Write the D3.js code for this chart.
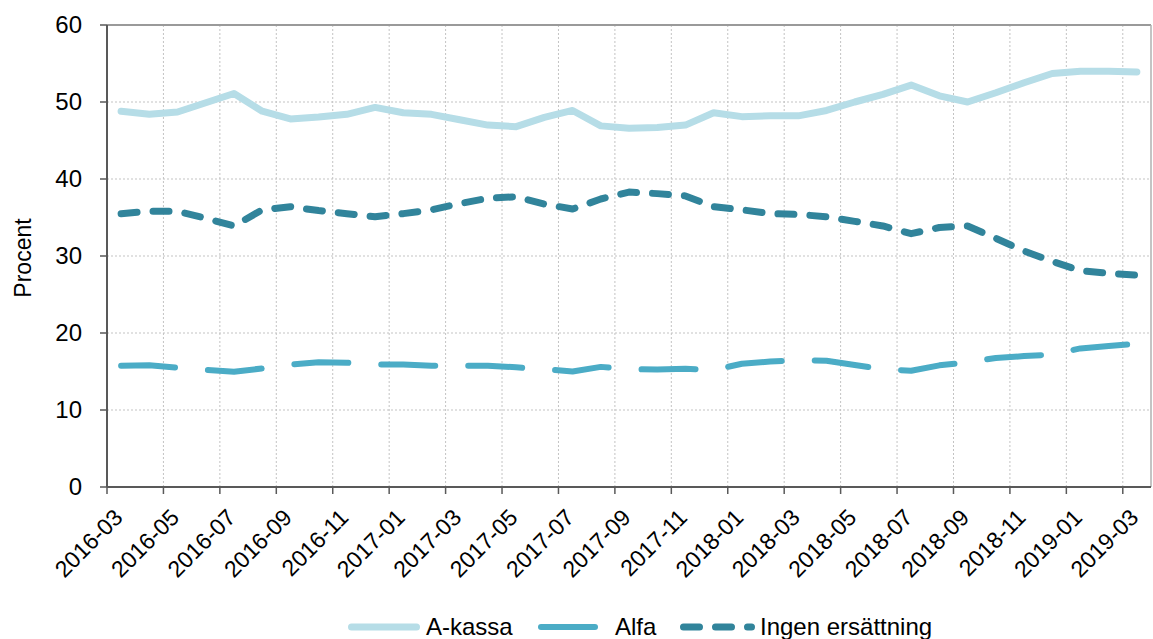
<!DOCTYPE html>
<html>
<head>
<meta charset="utf-8">
<script src="https://cdn.jsdelivr.net/npm/d3@7"></script>
<style>
body{margin:0;background:#fff}
text{font-family:"Liberation Sans",Arial,sans-serif;fill:#000}
</style>
</head>
<body>
<svg id="chart" width="1153" height="639"></svg>
<script>
var months = ["2016-03","2016-04","2016-05","2016-06","2016-07","2016-08","2016-09","2016-10","2016-11","2016-12",
	"2017-01","2017-02","2017-03","2017-04","2017-05","2017-06","2017-07","2017-08","2017-09","2017-10","2017-11","2017-12",
	"2018-01","2018-02","2018-03","2018-04","2018-05","2018-06","2018-07","2018-08","2018-09","2018-10","2018-11","2018-12",
	"2019-01","2019-02","2019-03"];
var aKassa = [48.8,48.4,48.7,49.9,51.1,48.8,47.8,48.05,48.4,49.3,48.6,48.4,47.7,47.0,46.8,48.0,48.9,46.9,46.6,46.7,
	47.0,48.6,48.1,48.2,48.2,48.9,50.0,51.0,52.2,50.8,50.0,51.2,52.5,53.7,54.0,54.0,53.9];
var alfa = [15.75,15.8,15.5,15.2,14.97,15.4,15.9,16.2,16.15,15.9,15.9,15.75,15.75,15.75,15.55,15.3,15.0,15.6,15.3,15.25,
	15.35,15.2,16.0,16.3,16.45,16.4,15.85,15.3,15.1,15.8,16.2,16.75,17.0,17.2,18.0,18.3,18.6];
var ingen = [35.5,35.8,35.8,34.9,33.9,36.0,36.4,35.9,35.5,35.1,35.5,36.0,36.8,37.5,37.7,36.75,36.1,37.4,38.3,38.1,
	37.8,36.4,36.0,35.5,35.4,35.1,34.5,33.9,32.9,33.7,33.9,32.3,30.65,29.3,28.1,27.75,27.5];
var yTicks = [0,10,20,30,40,50,60];
var seriesNames = ["A-kassa","Alfa","Ingen ersättning"];

var plotLeft = 107, plotRight = 1151, plotTop = 25, plotBottom = 487;
var svg = d3.select("#chart");

var x = d3.scaleBand().domain(months).range([plotLeft, plotRight]).padding(0);
var y = d3.scaleLinear().domain([0, 60]).range([plotBottom, plotTop]);
var labelled = months.filter(function(d, i){ return i % 2 == 0; });

// grid
svg.append("g")
	.selectAll("line")
	.data(yTicks.slice(1, -1))
	.enter()
	.append("line")
	.attr("x1", plotLeft).attr("x2", plotRight)
	.attr("y1", d => y(d)).attr("y2", d => y(d))
	.style("stroke", "#c3c3c3")
	.style("stroke-dasharray", "2,2");

svg.append("g")
	.selectAll("line")
	.data(labelled.slice(1))
	.enter()
	.append("line")
	.attr("x1", d => x(d)).attr("x2", d => x(d))
	.attr("y1", plotTop).attr("y2", plotBottom)
	.style("stroke", "#c3c3c3")
	.style("stroke-dasharray", "2,2");

// frame top/right
svg.append("line").attr("x1", plotLeft).attr("x2", plotRight).attr("y1", y(60)).attr("y2", y(60))
	.style("stroke", "#9a9a9a").style("stroke-width", 2);
svg.append("line").attr("x1", plotRight).attr("x2", plotRight).attr("y1", plotTop).attr("y2", plotBottom)
	.style("stroke", "#b0b0b0").style("stroke-width", 1.5);

// axes
svg.append("line").attr("x1", plotLeft).attr("x2", plotLeft).attr("y1", plotTop).attr("y2", plotBottom)
	.style("stroke", "#595959").style("stroke-width", 2);
svg.append("line").attr("x1", plotLeft).attr("x2", plotRight).attr("y1", plotBottom).attr("y2", plotBottom)
	.style("stroke", "#595959").style("stroke-width", 2);

svg.append("g")
	.selectAll("line")
	.data(yTicks)
	.enter()
	.append("line")
	.attr("x1", plotLeft - 7).attr("x2", plotLeft)
	.attr("y1", d => y(d)).attr("y2", d => y(d))
	.style("stroke", "#595959").style("stroke-width", 1.5);

svg.append("g")
	.selectAll("text")
	.data(yTicks)
	.enter()
	.append("text")
	.text(d => d)
	.attr("x", plotLeft - 25)
	.attr("y", d => y(d))
	.attr("dy", "0.35em")
	.attr("text-anchor", "end")
	.style("font-size", "24px");

svg.append("g")
	.selectAll("line")
	.data(labelled)
	.enter()
	.append("line")
	.attr("x1", d => x(d)).attr("x2", d => x(d))
	.attr("y1", plotBottom).attr("y2", plotBottom + 7)
	.style("stroke", "#595959").style("stroke-width", 1.5);

svg.append("g")
	.selectAll("text")
	.data(labelled)
	.enter()
	.append("text")
	.text(d => d)
	.attr("transform", d => "translate(" + (x(d) + x.bandwidth()/2 + 3) + "," + 519 + ") rotate(-45)")
	.attr("text-anchor", "end")
	.style("font-size", "23px");

svg.append("text")
	.text("Procent")
	.attr("transform", "translate(31," + 258 + ") rotate(-90)")
	.attr("text-anchor", "middle")
	.style("font-size", "23px");

// series
var line = d3.line()
	.x(function(d, i){ return x(months[i]) + x.bandwidth()/2; })
	.y(function(d){ return y(d); });

var series = [
	{name: seriesNames[0], values: aKassa, color: "#b6dde7", width: 7, dash: null},
	{name: seriesNames[1], values: alfa, color: "#4bacc6", width: 6, dash: "54,33"},
	{name: seriesNames[2], values: ingen, color: "#31849b", width: 7, dash: "16,16"}
];

svg.append("g")
	.selectAll("path")
	.data(series)
	.enter()
	.append("path")
	.attr("d", d => line(d.values))
	.style("fill", "none")
	.style("stroke", d => d.color)
	.style("stroke-width", d => d.width)
	.style("stroke-linecap", "round")
	.style("stroke-linejoin", "round")
	.style("stroke-dasharray", d => d.dash);

// legend
var legendPos = [{x1: 351.5, x2: 416.5, tx: 426}, {x1: 541, x2: 595, tx: 615}, {x1: 683.5, x2: 751.5, tx: 760}];
var lg = svg.append("g")
	.selectAll("g")
	.data(series)
	.enter()
	.append("g");
lg.append("line")
	.attr("x1", (d, i) => legendPos[i].x1)
	.attr("x2", (d, i) => legendPos[i].x2)
	.attr("y1", 627).attr("y2", 627)
	.style("stroke", d => d.color)
	.style("stroke-width", d => d.width)
	.style("stroke-linecap", "round")
	.style("stroke-dasharray", d => d.dash);
lg.append("text")
	.text(d => d.name)
	.attr("x", (d, i) => legendPos[i].tx)
	.attr("y", 627)
	.attr("dy", "0.35em")
	.style("font-size", "24px");
</script>
</body>
</html>
